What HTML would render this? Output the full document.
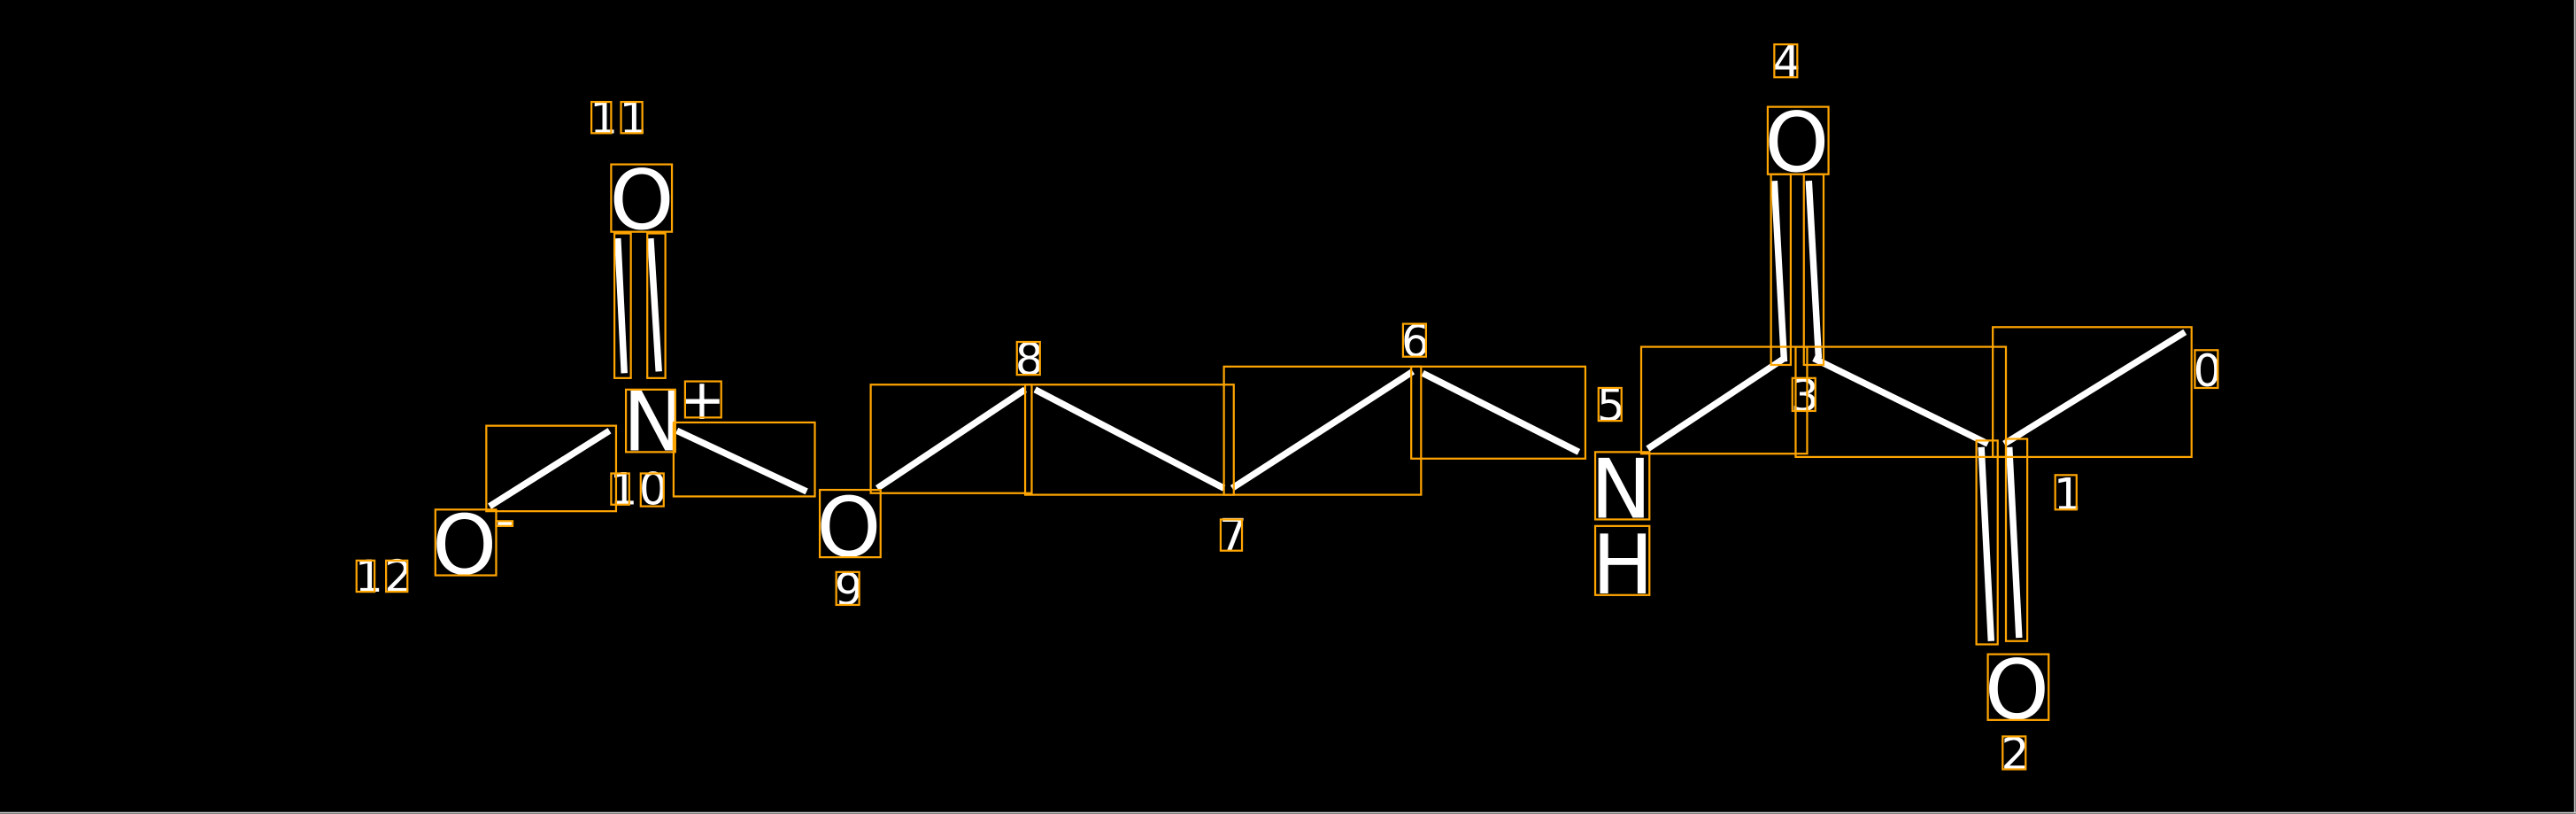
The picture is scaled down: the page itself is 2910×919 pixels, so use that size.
<!DOCTYPE html>
<html><head><meta charset="utf-8"><style>
html,body{margin:0;padding:0;background:#000;}
svg{display:block;}
text{font-family:"DejaVu Sans","Liberation Sans",sans-serif;fill:#fff;}
</style></head><body>
<svg width="2910" height="919" viewBox="0 0 1568 495.2" preserveAspectRatio="none" xmlns="http://www.w3.org/2000/svg">
<rect x="0" y="0" width="1568" height="495.2" fill="#000"/>
<line x1="1567.3" y1="0" x2="1567.3" y2="495" stroke="#ccc" stroke-width="1"/>
<line x1="0" y1="494.5" x2="1568" y2="494.5" stroke="#ccc" stroke-width="1"/>
<g stroke="#fff" stroke-width="4" stroke-linecap="butt">
<line x1="298" y1="308" x2="371" y2="262"/>
<line x1="412" y1="262" x2="491" y2="299"/>
<line x1="534" y1="297" x2="624" y2="237"/>
<line x1="630" y1="237" x2="745" y2="297"/>
<line x1="750" y1="297" x2="860" y2="226"/>
<line x1="866" y1="227" x2="961" y2="275"/>
<line x1="1003" y1="273" x2="1086" y2="218"/>
<line x1="1104" y1="218" x2="1210" y2="270"/>
<line x1="1220" y1="270" x2="1330" y2="202"/>
<line x1="1080" y1="110" x2="1086" y2="220"/>
<line x1="1101" y1="110" x2="1107" y2="218"/>
<line x1="1206" y1="272" x2="1212" y2="390"/>
<line x1="1223" y1="272" x2="1229" y2="388"/>
<line x1="376" y1="145" x2="380" y2="227"/>
<line x1="396" y1="145" x2="401" y2="226"/>
</g>
<g font-size="50">
<text x="371" y="139">O</text>
<text x="379" y="274">N</text>
<text x="263" y="349">O</text>
<text x="497" y="338">O</text>
<text x="968" y="315">N</text>
<text x="969" y="361">H</text>
<text x="1074" y="104">O</text>
<text x="1208" y="437">O</text>
</g>
<g font-size="27">
<text x="413" y="255" font-size="34">+</text>
<rect x="303" y="317" width="9" height="3" fill="#fff"/>
<text x="359" y="81">1</text><text x="377" y="81">1</text>
<text x="371" y="307">1</text><text x="389" y="307">0</text>
<text x="216" y="360">1</text><text x="234" y="360">2</text>
<text x="508" y="368">9</text>
<text x="618" y="228">8</text>
<text x="742" y="335">7</text>
<text x="853" y="217">6</text>
<text x="972" y="256">5</text>
<text x="1079" y="47">4</text>
<text x="1090" y="250">3</text>
<text x="1218" y="468">2</text>
<text x="1250" y="310">1</text>
<text x="1335" y="235">0</text>
</g>
<g fill="none" stroke="#ffa500" stroke-width="1.2">
<rect x="372" y="100" width="37" height="41"/>
<rect x="360" y="62" width="12" height="19"/><rect x="378" y="62" width="13" height="19"/>
<rect x="374" y="142" width="10" height="88"/><rect x="394" y="142" width="11" height="88"/>
<rect x="381" y="237" width="30" height="38"/><rect x="417" y="232" width="22" height="22"/>
<rect x="296" y="259" width="79" height="52"/>
<rect x="410" y="257" width="86" height="45"/>
<rect x="372" y="288" width="11" height="19"/><rect x="390" y="288" width="14" height="20"/>
<rect x="265" y="310" width="37" height="40"/><rect x="302" y="317" width="10" height="3"/>
<rect x="217" y="341" width="11" height="19"/><rect x="235" y="341" width="13" height="19"/>
<rect x="499" y="298" width="37" height="41"/><rect x="509" y="348" width="14" height="20"/>
<rect x="530" y="234" width="98" height="66"/>
<rect x="624" y="234" width="127" height="67"/>
<rect x="619" y="208" width="14" height="20"/>
<rect x="745" y="223" width="120" height="78"/>
<rect x="743" y="316" width="13" height="19"/>
<rect x="854" y="197" width="14" height="20"/>
<rect x="859" y="223" width="106" height="56"/>
<rect x="973" y="236" width="14" height="20"/>
<rect x="971" y="275" width="33" height="41"/><rect x="971" y="320" width="33" height="42"/>
<rect x="1076" y="65" width="37" height="41"/><rect x="1080" y="27" width="14" height="20"/>
<rect x="1078" y="106" width="12" height="116"/><rect x="1098" y="106" width="12" height="116"/>
<rect x="999" y="211" width="101" height="65"/>
<rect x="1093" y="211" width="128" height="67"/>
<rect x="1091" y="230" width="14" height="20"/>
<rect x="1213" y="199" width="121" height="79"/>
<rect x="1336" y="213" width="14" height="23"/>
<rect x="1251" y="289" width="13" height="21"/>
<rect x="1203" y="268" width="13" height="124"/><rect x="1221" y="267" width="13" height="123"/>
<rect x="1210" y="398" width="37" height="40"/><rect x="1219" y="448" width="14" height="20"/>
</g>
</svg>
</body></html>
